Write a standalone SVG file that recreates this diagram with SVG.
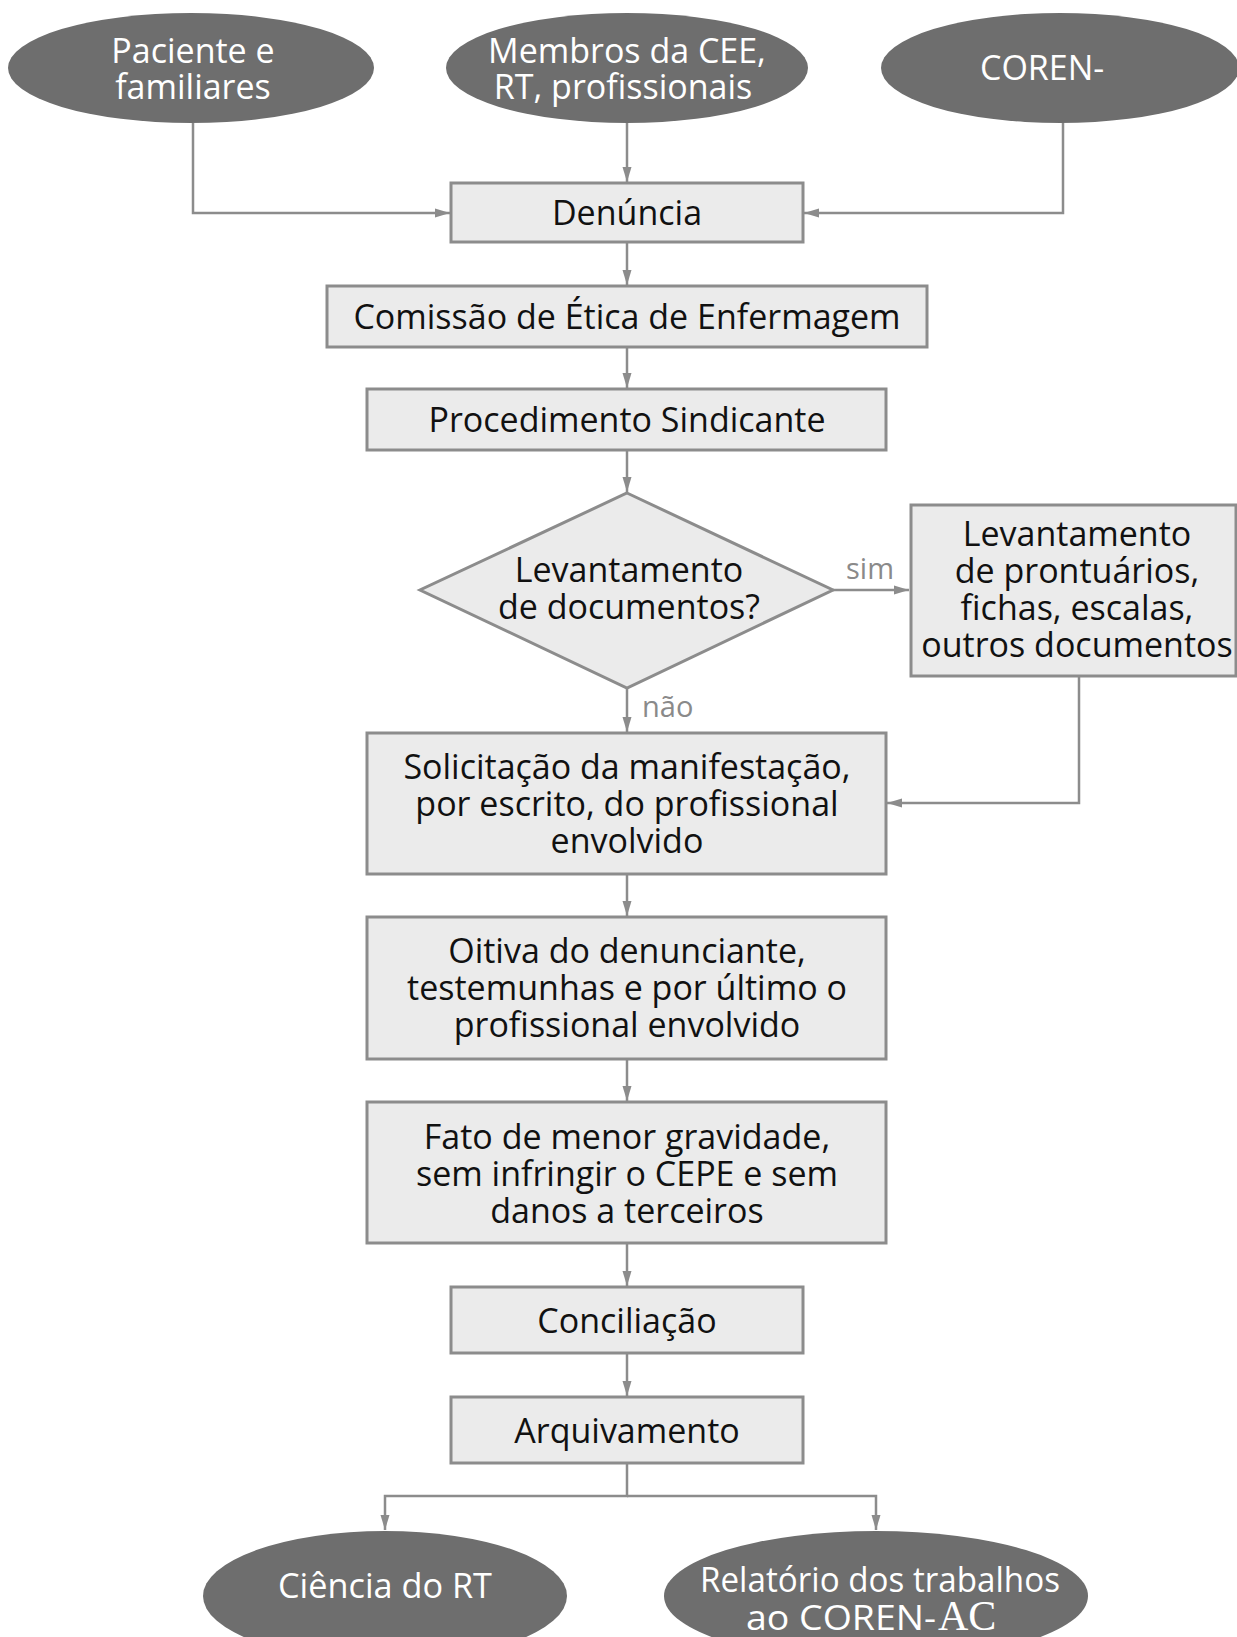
<svg xmlns="http://www.w3.org/2000/svg" width="1237" height="1637" viewBox="0 0 1237 1637">
  <style>
    .box { fill: #ebebeb; stroke: #8c8c8c; stroke-width: 3; }
    .oval { fill: #6e6e6e; }
    .t { font-family: "Open Sans", "Noto Sans", sans-serif; font-size: 34px; fill: #111; text-anchor: middle; }
    .w { font-family: "Open Sans", "Noto Sans", sans-serif; font-size: 34px; fill: #ffffff; text-anchor: middle; }
    .ws { font-family: "Open Sans", "Noto Sans", sans-serif; font-size: 34px; fill: #ffffff; text-anchor: start; }
    .lbl { font-family: "Open Sans", "Noto Sans", sans-serif; font-size: 29px; fill: #8a8a8a; text-anchor: start; }
    .c { fill: none; stroke: #8c8c8c; stroke-width: 2.5; }
  </style>
  <defs>
    <marker id="arr" markerUnits="userSpaceOnUse" markerWidth="16" markerHeight="10" refX="15" refY="5" orient="auto">
      <path d="M0,0.5 L15,5 L0,9.5 z" fill="#8c8c8c"/>
    </marker>
  </defs>
  <rect width="1237" height="1637" fill="#ffffff"/>

  <g id="connectors">
    <path class="c" d="M193,123 V213 H450" marker-end="url(#arr)"/>
    <path class="c" d="M627,123 V182" marker-end="url(#arr)"/>
    <path class="c" d="M1063,122 V213 H804" marker-end="url(#arr)"/>
    <path class="c" d="M627,242 V285" marker-end="url(#arr)"/>
    <path class="c" d="M627,347 V388" marker-end="url(#arr)"/>
    <path class="c" d="M627,450 V492" marker-end="url(#arr)"/>
    <path class="c" d="M833,590 H909" marker-end="url(#arr)"/>
    <path class="c" d="M627,688 V732" marker-end="url(#arr)"/>
    <path class="c" d="M1079,676 V803 H887" marker-end="url(#arr)"/>
    <path class="c" d="M627,874 V916" marker-end="url(#arr)"/>
    <path class="c" d="M627,1059 V1101" marker-end="url(#arr)"/>
    <path class="c" d="M627,1243 V1286" marker-end="url(#arr)"/>
    <path class="c" d="M627,1353 V1396" marker-end="url(#arr)"/>
    <path class="c" d="M627,1463 V1496 H385 V1530" marker-end="url(#arr)"/>
    <path class="c" d="M627,1496 H876 V1530" marker-end="url(#arr)"/>
    <text class="lbl" x="846" y="579">sim</text>
    <text class="lbl" x="642" y="717">não</text>
  </g>

  <g id="paciente">
    <ellipse class="oval" cx="191" cy="68" rx="183" ry="55"/>
    <text class="w" x="193" y="63">Paciente e<tspan x="193" dy="36">familiares</tspan></text>
  </g>
  <g id="membros">
    <ellipse class="oval" cx="627" cy="68" rx="181" ry="55"/>
    <text class="w" x="627" y="63">Membros da CEE,<tspan x="623" dy="36">RT, profissionais</tspan></text>
  </g>
  <g id="coren">
    <ellipse class="oval" cx="1060" cy="68" rx="179" ry="55"/>
    <text class="ws" x="980" y="80">COREN-</text>
  </g>

  <g id="denuncia">
    <rect class="box" x="451" y="183" width="352" height="59"/>
    <text class="t" x="627" y="225">Denúncia</text>
  </g>
  <g id="comissao">
    <rect class="box" x="327" y="286" width="600" height="61"/>
    <text class="t" x="627" y="329">Comissão de Ética de Enfermagem</text>
  </g>
  <g id="procedimento">
    <rect class="box" x="367" y="389" width="519" height="61"/>
    <text class="t" x="627" y="432">Procedimento Sindicante</text>
  </g>
  <g id="decisao">
    <polygon class="box" points="627,493 833,590 627,688 420,590"/>
    <text class="t" x="629" y="582">Levantamento<tspan x="629" dy="37">de documentos?</tspan></text>
  </g>
  <g id="levantamento">
    <rect class="box" x="911" y="505" width="325" height="171"/>
    <text class="t" x="1077" y="546">Levantamento<tspan x="1077" dy="37">de prontuários,</tspan><tspan x="1077" dy="37">fichas, escalas,</tspan><tspan x="1077" dy="37">outros documentos</tspan></text>
  </g>
  <g id="solicitacao">
    <rect class="box" x="367" y="733" width="519" height="141"/>
    <text class="t" x="627" y="779">Solicitação da manifestação,<tspan x="627" dy="37">por escrito, do profissional</tspan><tspan x="627" dy="37">envolvido</tspan></text>
  </g>
  <g id="oitiva">
    <rect class="box" x="367" y="917" width="519" height="142"/>
    <text class="t" x="627" y="963">Oitiva do denunciante,<tspan x="627" dy="37">testemunhas e por último o</tspan><tspan x="627" dy="37">profissional envolvido</tspan></text>
  </g>
  <g id="fato">
    <rect class="box" x="367" y="1102" width="519" height="141"/>
    <text class="t" x="627" y="1149">Fato de menor gravidade,<tspan x="627" dy="37">sem infringir o CEPE e sem</tspan><tspan x="627" dy="37">danos a terceiros</tspan></text>
  </g>
  <g id="conciliacao">
    <rect class="box" x="451" y="1287" width="352" height="66"/>
    <text class="t" x="627" y="1333">Conciliação</text>
  </g>
  <g id="arquivamento">
    <rect class="box" x="451" y="1397" width="352" height="66"/>
    <text class="t" x="627" y="1443">Arquivamento</text>
  </g>

  <g id="ciencia">
    <ellipse class="oval" cx="385" cy="1596" rx="182" ry="65"/>
    <text class="w" x="385" y="1598" font-size="37" textLength="214" lengthAdjust="spacingAndGlyphs">Ciência do RT</text>
  </g>
  <g id="relatorio">
    <ellipse class="oval" cx="876" cy="1596" rx="212" ry="65"/>
    <text class="w" x="880" y="1592" font-size="37" textLength="360" lengthAdjust="spacingAndGlyphs">Relatório dos trabalhos</text>
    <text class="ws" x="746" y="1630" font-size="37" textLength="190" lengthAdjust="spacingAndGlyphs">ao COREN-</text>
    <text class="ws" x="938" y="1630" font-family="Liberation Serif, serif" style="font-family: 'Liberation Serif', serif; font-size: 42px;">AC</text>
  </g>
</svg>
